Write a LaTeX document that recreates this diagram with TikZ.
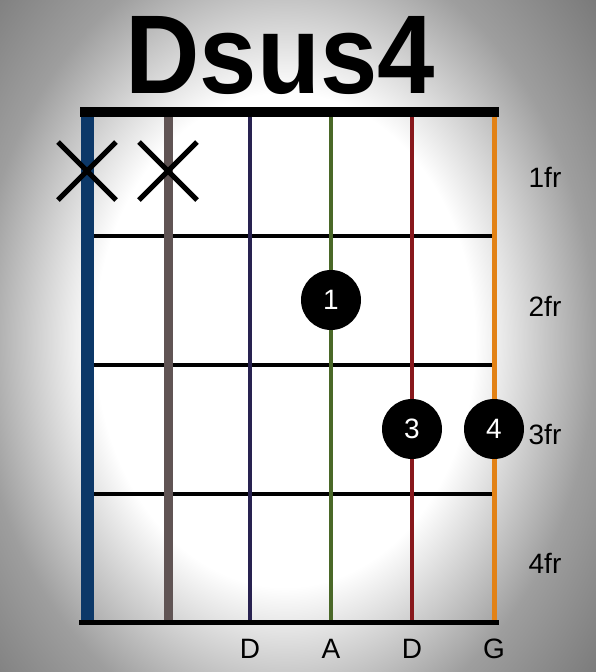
\documentclass[tikz,border=0pt]{standalone}
\usepackage{fontspec}
\setmainfont{Liberation Sans}
\pgfdeclareradialshading{vign}{\pgfpoint{0pt}{0pt}}{color(0pt)=(white); color(190pt)=(white); color(310pt)=(black!38); color(460pt)=(black!60)}
\definecolor{sblue}{RGB}{12,56,104}
\definecolor{sgray}{RGB}{96,84,84}
\definecolor{snavy}{RGB}{40,34,80}
\definecolor{sgreen}{RGB}{74,104,40}
\definecolor{sred}{RGB}{136,24,28}
\definecolor{sorange}{RGB}{226,130,22}
\tikzset{
  fretline/.style={line width=4pt, black},
  xmark/.style={line width=5pt, black},
  fingerdot/.style={circle, fill=black, minimum size=60pt, inner sep=0pt, text=white, font=\fontsize{28}{28}\selectfont},
  frlabel/.style={anchor=base, font=\fontsize{28}{28}\selectfont},
  notelabel/.style={anchor=base, font=\fontsize{28}{28}\selectfont},
}
\begin{document}
\begin{tikzpicture}[x=1pt,y=-1pt]
\useasboundingbox (0,0) rectangle (596,672);
\begin{scope}
\clip (0,0) rectangle (596,672);
\node[inner sep=0pt] (bg) at (285,340) {\scalebox{1}[1.3]{\pgfuseshading{vign}}};
\end{scope}
% title
\node[anchor=base, font=\fontsize{112}{112}\selectfont\bfseries, xscale=0.92] (title) at (280,93) {Dsus4};
% frets
\foreach \n/\y in {1/236,2/365,3/494}{
  \coordinate (f\n l) at (87,\y);
  \coordinate (f\n r) at (494,\y);
  \draw[fretline] (f\n l) -- (f\n r);
}
% strings
\foreach \n/\x/\c/\w in {1/87/sblue/13pt,2/168.5/sgray/9pt,3/250/snavy/4pt,4/331/sgreen/4pt,5/412/sred/4.5pt,6/494/sorange/5pt}{
  \coordinate (s\n t) at (\x,112);
  \coordinate (s\n b) at (\x,622);
  \draw[line width=\w, \c] (s\n t) -- (s\n b);
}
% nut and bottom line
\coordinate (nutl) at (80,112);
\coordinate (nutr) at (498.5,112);
\draw[line width=10pt] (nutl) -- (nutr);
\coordinate (botl) at (79,622.5);
\coordinate (botr) at (499,622.5);
\draw[line width=5pt] (botl) -- (botr);
% muted strings
\foreach \n/\x in {1/87,2/168}{
  \coordinate (x\n a) at (\x-29,142);
  \coordinate (x\n b) at (\x+29,200);
  \coordinate (x\n c) at (\x-29,200);
  \coordinate (x\n d) at (\x+29,142);
  \draw[xmark] (x\n a) -- (x\n b);
  \draw[xmark] (x\n c) -- (x\n d);
}
% finger dots
\node[fingerdot] (d1) at (331,300) {1};
\node[fingerdot] (d3) at (412,429) {3};
\node[fingerdot] (d4) at (494,429) {4};
% fret labels
\node[frlabel] (fr1) at (545,187) {1fr};
\node[frlabel] (fr2) at (545,316) {2fr};
\node[frlabel] (fr3) at (545,444) {3fr};
\node[frlabel] (fr4) at (545,573) {4fr};
% note labels
\node[notelabel] (n3) at (250,658) {D};
\node[notelabel] (n4) at (331,658) {A};
\node[notelabel] (n5) at (412,658) {D};
\node[notelabel] (n6) at (494,658) {G};
\end{tikzpicture}
\end{document}
